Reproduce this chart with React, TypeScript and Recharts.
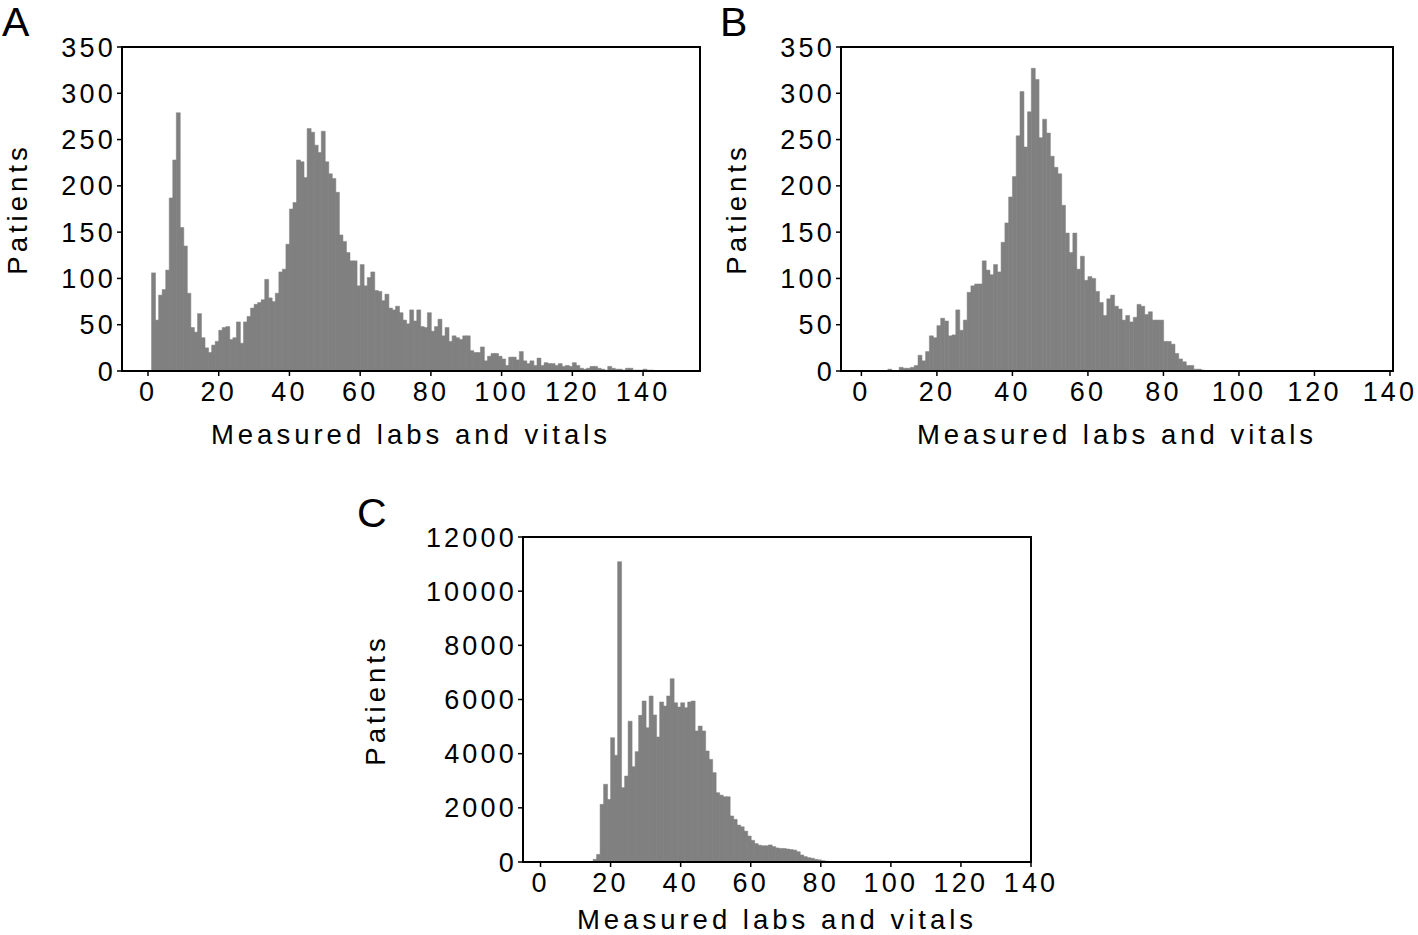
import React from 'react';
import { BarChart, Bar, XAxis, YAxis, ReferenceArea } from 'recharts';

// histogram counts, one value per unit-wide bin, first bin starts at startX
const startA = 1;
const patientsA = [
  106, 55, 82, 88, 109, 187, 228, 279, 155, 135, 84, 47, 42, 62, 36, 25, 20, 28, 32, 44,
  47, 48, 34, 36, 53, 30, 53, 59, 68, 72, 74, 77, 99, 79, 75, 84, 107, 110, 137, 175,
  182, 228, 226, 209, 262, 258, 244, 236, 259, 226, 213, 208, 193, 147, 140, 128, 119, 119, 92, 115,
  92, 101, 107, 87, 86, 76, 83, 68, 66, 70, 63, 55, 51, 66, 54, 66, 48, 47, 63, 43,
  48, 56, 38, 47, 32, 38, 36, 34, 38, 38, 22, 20, 20, 26, 11, 16, 19, 19, 16, 13,
  6, 15, 15, 12, 21, 11, 8, 11, 6, 14, 6, 9, 8, 8, 6, 8, 5, 6, 5, 9,
  6, 3, 2, 3, 5, 5, 3, 2, 1, 5, 3, 2, 2, 1, 3, 3, 1, 1, 1, 2,
  1, 1, 0.5,
];

const startB = 7;
const patientsB = [
  2, 0, 0, 4, 3, 3, 4, 6, 17, 11, 21, 38, 36, 49, 57, 54, 38, 39, 66, 44,
  55, 85, 92, 94, 94, 119, 109, 104, 115, 107, 139, 160, 188, 210, 254, 302, 242, 280, 327, 315,
  252, 272, 257, 232, 220, 213, 179, 149, 128, 149, 110, 124, 98, 102, 100, 86, 74, 60, 78, 82,
  70, 67, 55, 60, 53, 58, 72, 70, 61, 64, 55, 55, 55, 32, 32, 29, 19, 13, 10, 6,
  6, 2, 2, 1,
];

const startC = 15;
const patientsC = [
  100, 280, 2130, 2870, 2310, 4590, 3940, 11090, 2745, 3175, 5200, 3520, 4075, 5415, 5945, 4960, 6130, 5430, 4615, 5910,
  5760, 6130, 6770, 5880, 5720, 5880, 5700, 5910, 5945, 4840, 5020, 4840, 4100, 3790, 3300, 2560, 2470, 2410, 2410, 1700,
  1575, 1365, 1300, 1140, 960, 800, 680, 620, 600, 600, 630, 570, 520, 500, 500, 480, 460, 440, 380, 260,
  200, 160, 140, 100, 80, 50, 30, 20,
];

const xTicks = [0, 20, 40, 60, 80, 100, 120, 140];
const yTicksAB = [0, 50, 100, 150, 200, 250, 300, 350];
const yTicksC = [0, 2000, 4000, 6000, 8000, 10000, 12000];

const xLabel = 'Measured labs and vitals';
const yLabel = 'Patients';

const FONT = '"Liberation Sans", Arial, Helvetica, sans-serif';
const GREY = '#808080';

const toRows = (start: number, values: number[]) =>
  values.map((v, i) => ({ x: start + i + 0.5, patients: v }));

const tickStyle = { fill: '#000', fontSize: 27, fontFamily: FONT, letterSpacing: 3.2 };

interface PanelProps {
  data: { x: number; patients: number }[];
  left: number;
  top: number;
  width: number;
  height: number;
  marginTop: number;
  marginRight: number;
  yAxisWidth: number;
  xAxisHeight: number;
  xDomain: [number, number];
  yDomain: [number, number];
  yTicks: number[];
}

const Panel: React.FC<PanelProps> = (p) => (
  <div style={{ position: 'absolute', left: p.left, top: p.top }}>
    <BarChart
      width={p.width}
      height={p.height}
      data={p.data}
      margin={{ top: p.marginTop, right: p.marginRight, left: 0, bottom: 0 }}
      barCategoryGap={0}
      barGap={0}
      style={{ overflow: 'visible' }}
    >
      <XAxis
        dataKey="x"
        type="number"
        domain={p.xDomain}
        allowDataOverflow
        ticks={xTicks}
        interval={0}
        height={p.xAxisHeight}
        tick={tickStyle}
        tickSize={5}
        tickMargin={6}
        axisLine={{ stroke: '#000', strokeWidth: 2 }}
        tickLine={{ stroke: '#000', strokeWidth: 1.5 }}
      />
      <YAxis
        type="number"
        domain={p.yDomain}
        allowDataOverflow
        ticks={p.yTicks}
        interval={0}
        width={p.yAxisWidth}
        tick={tickStyle}
        tickSize={5}
        tickMargin={1}
        axisLine={{ stroke: '#000', strokeWidth: 2 }}
        tickLine={{ stroke: '#000', strokeWidth: 1.5 }}
      />
      <Bar dataKey="patients" fill={GREY} stroke={GREY} strokeWidth={0.5} isAnimationActive={false} />
      <ReferenceArea
        x1={p.xDomain[0]}
        x2={p.xDomain[1]}
        y1={p.yDomain[0]}
        y2={p.yDomain[1]}
        fill="none"
        fillOpacity={0}
        stroke="#000"
        strokeWidth={2}
        ifOverflow="visible"
      />
    </BarChart>
  </div>
);

const labelStyle = { fontFamily: FONT, fontSize: 27.5, letterSpacing: 4, fill: '#000' };
const letterStyle = { fontFamily: FONT, fontSize: 41, fill: '#000' };

export default function App() {
  return (
    <div style={{ position: 'absolute', left: 0, top: 0, width: 1418, height: 935, background: '#fff' }}>
      <Panel
        data={toRows(startA, patientsA)}
        left={0}
        top={0}
        width={720}
        height={460}
        marginTop={47}
        marginRight={20}
        yAxisWidth={122}
        xAxisHeight={89}
        xDomain={[-7.35, 156.1]}
        yDomain={[0, 350]}
        yTicks={yTicksAB}
      />
      <Panel
        data={toRows(startB, patientsB)}
        left={720}
        top={0}
        width={698}
        height={460}
        marginTop={47}
        marginRight={25}
        yAxisWidth={121}
        xAxisHeight={89}
        xDomain={[-5.4, 140.8]}
        yDomain={[0, 350]}
        yTicks={yTicksAB}
      />
      <Panel
        data={toRows(startC, patientsC)}
        left={400}
        top={490}
        width={700}
        height={445}
        marginTop={47}
        marginRight={69}
        yAxisWidth={123}
        xAxisHeight={73}
        xDomain={[-5, 140]}
        yDomain={[0, 12000]}
        yTicks={yTicksC}
      />
      <svg
        width={1418}
        height={935}
        style={{ position: 'absolute', left: 0, top: 0, pointerEvents: 'none' }}
      >
        <text x={2} y={36} style={letterStyle}>A</text>
        <text x={720} y={36} style={letterStyle}>B</text>
        <text x={357} y={527} style={letterStyle}>C</text>

        <text x={411} y={444} textAnchor="middle" style={labelStyle}>{xLabel}</text>
        <text x={1117} y={444} textAnchor="middle" style={labelStyle}>{xLabel}</text>
        <text x={777} y={929} textAnchor="middle" style={labelStyle}>{xLabel}</text>

        <text x={27} y={209} textAnchor="middle" transform="rotate(-90 27 209)" style={labelStyle}>{yLabel}</text>
        <text x={746} y={209} textAnchor="middle" transform="rotate(-90 746 209)" style={labelStyle}>{yLabel}</text>
        <text x={385} y={700} textAnchor="middle" transform="rotate(-90 385 700)" style={labelStyle}>{yLabel}</text>
      </svg>
    </div>
  );
}
